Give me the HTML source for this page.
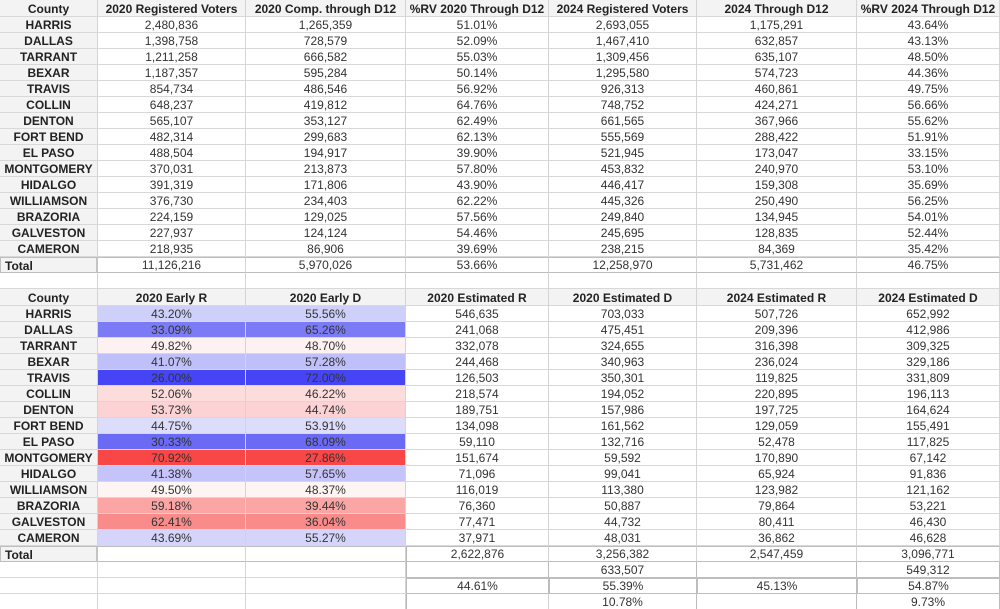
<!DOCTYPE html>
<html><head><meta charset="utf-8">
<style>
html,body{margin:0;padding:0;background:#fff;width:1000px;height:609px;overflow:hidden}
.g{display:grid;grid-template-columns:98px 148px 160px 143px 148px 160px 143px;
grid-template-rows:17px repeat(15,16px) 16px 16px 17px repeat(15,16px) 16px 16px 16px 16px;
font-family:"Liberation Sans",Arial,sans-serif;width:1000px}
.g>div{box-sizing:border-box;border-right:1px solid #d4d4d4;border-bottom:1px solid #d8d8d8;text-align:center;font-size:12px;line-height:16px;color:#333;white-space:nowrap;overflow:hidden}
.g>div.h{background:#f3f3f3;font-weight:bold;color:#222;line-height:17px;padding-top:1px;font-size:12px}
.g>div.c{background:#f3f3f3;font-weight:bold;color:#222}
.g>div.t{text-align:left;padding-left:4px;background:#f3f3f3;font-weight:bold;color:#222;border:1px solid #bdbdbd;border-right:2px solid #c4c4c4}
.g>div.tr{border-top:1px solid #bdbdbd;border-bottom:1px solid #bdbdbd;line-height:15px}
.g>div.b{border-bottom:1px solid #bdbdbd;border-right:1px solid #bdbdbd}
.g>div.bl{border-left:1px solid #b5b5b5}
.g>div.bx{border:1px solid #bdbdbd;line-height:15px}
.p1{background:#cfd0fa}.p2{background:#7b7bf6}.p3{background:#fdf1f1}.p4{background:#bfbff9}
.p5{background:#4545f5}.p6{background:#fddcdc}.p7{background:#fcd2d4}.p8{background:#dcdcfb}
.p9{background:#6a6af4}.p10{background:#f94646}.p11{background:#c4c4fa}.p12{background:#fdf5f3}
.p13{background:#fba5a5}.p14{background:#f98b8b}.p15{background:#d5d5fb}
</style></head><body>
<div class="g">
<div class="h">County</div><div class="h">2020 Registered Voters</div><div class="h">2020 Comp. through D12</div><div class="h">%RV 2020 Through D12</div><div class="h">2024 Registered Voters</div><div class="h">2024 Through D12</div><div class="h">%RV 2024 Through D12</div>
<div class="c">HARRIS</div><div>2,480,836</div><div>1,265,359</div><div>51.01%</div><div>2,693,055</div><div>1,175,291</div><div>43.64%</div>
<div class="c">DALLAS</div><div>1,398,758</div><div>728,579</div><div>52.09%</div><div>1,467,410</div><div>632,857</div><div>43.13%</div>
<div class="c">TARRANT</div><div>1,211,258</div><div>666,582</div><div>55.03%</div><div>1,309,456</div><div>635,107</div><div>48.50%</div>
<div class="c">BEXAR</div><div>1,187,357</div><div>595,284</div><div>50.14%</div><div>1,295,580</div><div>574,723</div><div>44.36%</div>
<div class="c">TRAVIS</div><div>854,734</div><div>486,546</div><div>56.92%</div><div>926,313</div><div>460,861</div><div>49.75%</div>
<div class="c">COLLIN</div><div>648,237</div><div>419,812</div><div>64.76%</div><div>748,752</div><div>424,271</div><div>56.66%</div>
<div class="c">DENTON</div><div>565,107</div><div>353,127</div><div>62.49%</div><div>661,565</div><div>367,966</div><div>55.62%</div>
<div class="c">FORT BEND</div><div>482,314</div><div>299,683</div><div>62.13%</div><div>555,569</div><div>288,422</div><div>51.91%</div>
<div class="c">EL PASO</div><div>488,504</div><div>194,917</div><div>39.90%</div><div>521,945</div><div>173,047</div><div>33.15%</div>
<div class="c">MONTGOMERY</div><div>370,031</div><div>213,873</div><div>57.80%</div><div>453,832</div><div>240,970</div><div>53.10%</div>
<div class="c">HIDALGO</div><div>391,319</div><div>171,806</div><div>43.90%</div><div>446,417</div><div>159,308</div><div>35.69%</div>
<div class="c">WILLIAMSON</div><div>376,730</div><div>234,403</div><div>62.22%</div><div>445,326</div><div>250,490</div><div>56.25%</div>
<div class="c">BRAZORIA</div><div>224,159</div><div>129,025</div><div>57.56%</div><div>249,840</div><div>134,945</div><div>54.01%</div>
<div class="c">GALVESTON</div><div>227,937</div><div>124,124</div><div>54.46%</div><div>245,695</div><div>128,835</div><div>52.44%</div>
<div class="c">CAMERON</div><div>218,935</div><div>86,906</div><div>39.69%</div><div>238,215</div><div>84,369</div><div>35.42%</div>
<div class="t">Total</div><div class="tr">11,126,216</div><div class="tr">5,970,026</div><div class="tr">53.66%</div><div class="tr">12,258,970</div><div class="tr">5,731,462</div><div class="tr">46.75%</div>
<div></div><div></div><div></div><div></div><div></div><div></div><div></div>
<div class="h">County</div><div class="h">2020 Early R</div><div class="h">2020 Early D</div><div class="h">2020 Estimated R</div><div class="h">2020 Estimated D</div><div class="h">2024 Estimated R</div><div class="h">2024 Estimated D</div>
<div class="c">HARRIS</div><div class="p1">43.20%</div><div class="p1">55.56%</div><div>546,635</div><div>703,033</div><div>507,726</div><div>652,992</div>
<div class="c">DALLAS</div><div class="p2">33.09%</div><div class="p2">65.26%</div><div>241,068</div><div>475,451</div><div>209,396</div><div>412,986</div>
<div class="c">TARRANT</div><div class="p3">49.82%</div><div class="p3">48.70%</div><div>332,078</div><div>324,655</div><div>316,398</div><div>309,325</div>
<div class="c">BEXAR</div><div class="p4">41.07%</div><div class="p4">57.28%</div><div>244,468</div><div>340,963</div><div>236,024</div><div>329,186</div>
<div class="c">TRAVIS</div><div class="p5">26.00%</div><div class="p5">72.00%</div><div>126,503</div><div>350,301</div><div>119,825</div><div>331,809</div>
<div class="c">COLLIN</div><div class="p6">52.06%</div><div class="p6">46.22%</div><div>218,574</div><div>194,052</div><div>220,895</div><div>196,113</div>
<div class="c">DENTON</div><div class="p7">53.73%</div><div class="p7">44.74%</div><div>189,751</div><div>157,986</div><div>197,725</div><div>164,624</div>
<div class="c">FORT BEND</div><div class="p8">44.75%</div><div class="p8">53.91%</div><div>134,098</div><div>161,562</div><div>129,059</div><div>155,491</div>
<div class="c">EL PASO</div><div class="p9">30.33%</div><div class="p9">68.09%</div><div>59,110</div><div>132,716</div><div>52,478</div><div>117,825</div>
<div class="c">MONTGOMERY</div><div class="p10">70.92%</div><div class="p10">27.86%</div><div>151,674</div><div>59,592</div><div>170,890</div><div>67,142</div>
<div class="c">HIDALGO</div><div class="p11">41.38%</div><div class="p11">57.65%</div><div>71,096</div><div>99,041</div><div>65,924</div><div>91,836</div>
<div class="c">WILLIAMSON</div><div class="p12">49.50%</div><div class="p12">48.37%</div><div>116,019</div><div>113,380</div><div>123,982</div><div>121,162</div>
<div class="c">BRAZORIA</div><div class="p13">59.18%</div><div class="p13">39.44%</div><div>76,360</div><div>50,887</div><div>79,864</div><div>53,221</div>
<div class="c">GALVESTON</div><div class="p14">62.41%</div><div class="p14">36.04%</div><div>77,471</div><div>44,732</div><div>80,411</div><div>46,430</div>
<div class="c">CAMERON</div><div class="p15">43.69%</div><div class="p15">55.27%</div><div>37,971</div><div>48,031</div><div>36,862</div><div>46,628</div>
<div class="t">Total</div><div class="tr"></div><div class="tr"></div><div class="tr bl">2,622,876</div><div class="tr">3,256,382</div><div class="tr">2,547,459</div><div class="tr">3,096,771</div>
<div></div><div></div><div></div><div class="b bl"></div><div class="b">633,507</div><div class="b"></div><div class="b">549,312</div>
<div></div><div></div><div></div><div class="bx bl">44.61%</div><div class="bx">55.39%</div><div class="bx">45.13%</div><div class="bx">54.87%</div>
<div></div><div></div><div></div><div class="bl"></div><div class="b">10.78%</div><div class="b"></div><div class="b">9.73%</div>
</div>
</body></html>
